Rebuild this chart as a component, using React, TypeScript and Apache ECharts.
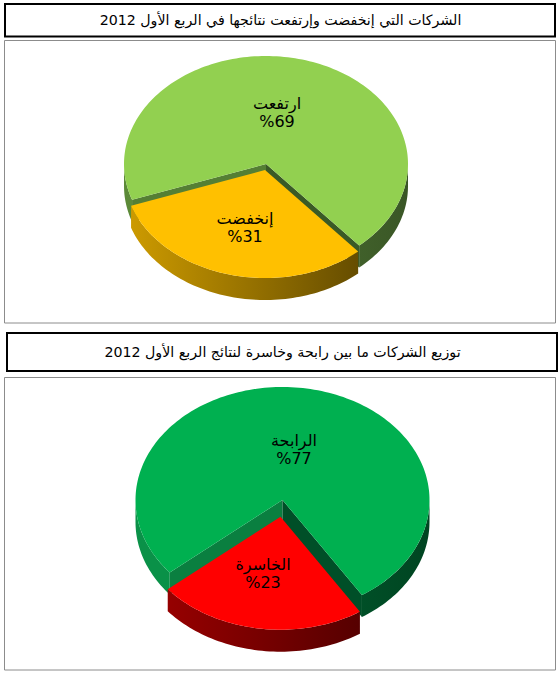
import React, { useEffect, useRef } from "react";
import * as echarts from "echarts";

const titleTop = "الشركات التي إنخفضت وإرتفعت نتائجها في الربع الأول 2012";
const titleBottom = "توزيع الشركات ما بين رابحة وخاسرة لنتائج الربع الأول 2012";

const topNames = ["ارتفعت", "إنخفضت"];
const topValues = [69, 31];
const bottomNames = ["الرابحة", "الخاسرة"];
const bottomValues = [77, 23];

const FONT = '"DejaVu Sans", sans-serif';

type Geo = {
  cx: number; cy: number; rx: number; ry: number; depth: number; startDeg: number;
  offset: [number, number];
  labelPos: [number, number][];
  top: string[];
  wallRight: string; wallLeft: string;
  sideLeft: string; sideRight: string[];
  frontSide: [string, string];
};

const geoTop: Geo = {
  cx: 266, cy: 164, rx: 142, ry: 108, depth: 22, startDeg: 49,
  offset: [-1, 6],
  labelPos: [[277, 112], [245, 227]],
  top: ["#92D050", "#FFC000"],
  wallRight: "#3A5A26", wallLeft: "#557F34",
  sideLeft: "#5C8A38", sideRight: ["#40602A", "#3A5626"],
  frontSide: ["#CC9A00", "#664D00"],
};
const geoBottom: Geo = {
  cx: 282.5, cy: 500, rx: 147, ry: 113, depth: 22, startDeg: 57.3,
  offset: [-2, 16.7],
  labelPos: [[294, 449], [263, 573]],
  top: ["#00B050", "#FF0000"],
  wallRight: "#004F28", wallLeft: "#0A7F40",
  sideLeft: "#0A9148", sideRight: ["#004F27", "#004421"],
  frontSide: ["#960000", "#560000"],
};

function pt(g: Geo, deg: number, ox = 0, oy = 0, d = 0): number[] {
  const a = (deg * Math.PI) / 180;
  return [g.cx + ox + g.rx * Math.cos(a), g.cy + oy + g.ry * Math.sin(a) + d];
}
function arc(g: Geo, a: number, b: number, ox = 0, oy = 0, d = 0): number[][] {
  const n = Math.max(2, Math.ceil(Math.abs(b - a) / 1.5));
  const out: number[][] = [];
  for (let i = 0; i <= n; i++) out.push(pt(g, a + ((b - a) * i) / n, ox, oy, d));
  return out;
}
function poly(points: number[][], fill: any) {
  return { type: "polygon", shape: { points }, style: { fill, stroke: "none" }, silent: true };
}
function sidePoly(g: Geo, a: number, b: number, fill: any, ox = 0, oy = 0) {
  const up = arc(g, a, b, ox, oy, 0);
  const down = arc(g, b, a, ox, oy, g.depth);
  return poly(up.concat(down), fill);
}
function hGrad(c0: string, c1: string) {
  return new echarts.graphic.LinearGradient(0, 0, 1, 0, [
    { offset: 0, color: c0 },
    { offset: 1, color: c1 },
  ]);
}

function pieSeries(g: Geo, names: string[], values: number[]) {
  const total = values.reduce((s, v) => s + v, 0);
  const smallSweep = (values[1] / total) * 360;
  const s0 = g.startDeg;
  const s1 = s0 + smallSweep;
  return {
    type: "custom",
    coordinateSystem: "none",
    silent: true,
    data: names.map((name, i) => ({ name, value: values[i] })),
    renderItem: (params: any) => {
      const i = params.dataIndex;
      const children: any[] = [];
      if (i === 0) {
        // large slice, from the end of the small one round to its start
        if (s1 < 180) children.push(sidePoly(g, s1, 180, g.sideLeft));
        children.push(sidePoly(g, 360, 360 + s0, hGrad(g.sideRight[0], g.sideRight[1])));
        const apex = [g.cx, g.cy];
        const a = pt(g, s0);
        const b = pt(g, s1);
        children.push(poly([apex, b, [b[0], b[1] + g.depth], [apex[0], apex[1] + g.depth]], g.wallLeft));
        children.push(poly([apex, a, [a[0], a[1] + g.depth], [apex[0], apex[1] + g.depth]], g.wallRight));
        children.push(poly([apex].concat(arc(g, s1, 360 + s0)), g.top[0]));
      } else {
        const [ox, oy] = g.offset;
        children.push(sidePoly(g, s0, s1, hGrad(g.frontSide[0], g.frontSide[1]), ox, oy));
        children.push(poly([[g.cx + ox, g.cy + oy]].concat(arc(g, s0, s1, ox, oy)), g.top[1]));
      }
      children.push({
        type: "text",
        x: g.labelPos[i][0],
        y: g.labelPos[i][1],
        silent: true,
        style: {
          text: `${names[i]}\n%${values[i]}`,
          fill: "#000",
          font: `16px ${FONT}`,
          lineHeight: 18,
          align: "center",
          verticalAlign: "middle",
        },
      });
      return { type: "group", children };
    },
  };
}

function box(x: number, y: number, w: number, h: number, stroke: string, lineWidth: number) {
  return { type: "rect", shape: { x, y, width: w, height: h }, style: { fill: "#fff", stroke, lineWidth }, z: -10, silent: true };
}

export default function App() {
  const ref = useRef<HTMLDivElement>(null);
  useEffect(() => {
    const chart = echarts.init(ref.current!, undefined, { renderer: "svg" });
    chart.setOption({
      animation: false,
      backgroundColor: "#fff",
      title: [
        { text: titleTop, left: 280.5, top: 12, textAlign: "center", padding: 0, textStyle: { fontFamily: FONT, fontSize: 14.2, fontWeight: "normal", color: "#000", lineHeight: 16 } },
        { text: titleBottom, left: 282.5, top: 344, textAlign: "center", padding: 0, textStyle: { fontFamily: FONT, fontSize: 14.2, fontWeight: "normal", color: "#000", lineHeight: 16 } },
      ],
      graphic: [
        box(5, 4, 550, 32.5, "#000", 2),
        box(4.5, 40.5, 551, 282.5, "#8c8c8c", 1),
        box(7, 333, 550, 38, "#000", 2),
        box(4.5, 377.5, 551, 292.5, "#8c8c8c", 1),
      ],
      series: [pieSeries(geoTop, topNames, topValues), pieSeries(geoBottom, bottomNames, bottomValues)],
    });
    return () => chart.dispose();
  }, []);
  return <div ref={ref} dir="rtl" style={{ position: "fixed", left: 0, top: 0, width: 560, height: 674 }} />;
}
